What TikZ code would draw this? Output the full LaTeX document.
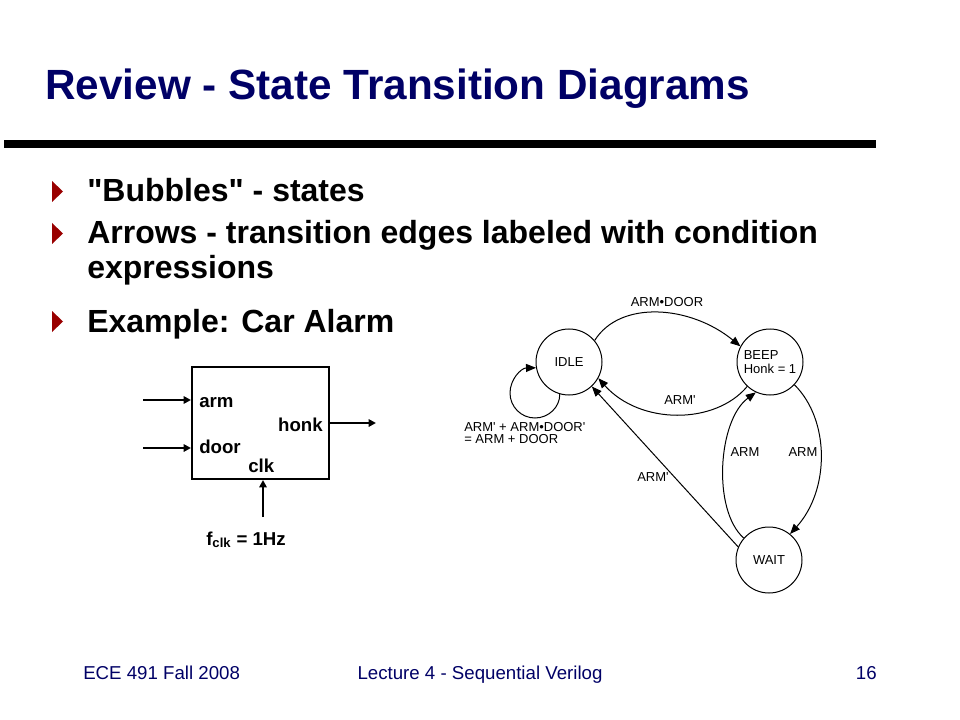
\documentclass[tikz,border=0pt]{standalone}
\usepackage{fontspec}
\setmainfont{Liberation Sans}[Ligatures=TeXOff]
\usetikzlibrary{arrows.meta}
\usetikzlibrary{positioning}
\definecolor{titlenavy}{RGB}{0,0,102}
\definecolor{bulletred}{RGB}{153,0,0}

\tikzset{
  bubble/.style={draw, circle, line width=0.75pt, minimum size=49.5pt, inner sep=0pt, font=\fontsize{9.75}{10.5}\selectfont},
  edgelbl/.style={inner sep=0pt, font=\fontsize{9.75}{9}\selectfont},
  trans/.style={line width=0.75pt, -{Triangle[length=7.5pt,width=6pt]}},
  wire/.style={line width=1.5pt, -{Triangle[length=5.5pt,width=5.5pt]}},
  portlbl/.style={inner sep=0pt, font=\fontsize{14}{16}\selectfont\bfseries},
  bullettext/.style={anchor=base west, inner sep=0pt, font=\fontsize{24}{28}\selectfont\bfseries},
  footer/.style={inner sep=0pt, text=titlenavy, font=\fontsize{14}{16}\selectfont}
}

\begin{document}
\begin{tikzpicture}[x=0.75pt, y=-0.75pt]
            \useasboundingbox (0,0) rectangle (960,720);

            % Title and rule
            \node[anchor=base west, inner sep=0pt, text=titlenavy, font=\fontsize{31.7}{36}\selectfont\bfseries] (title) at (45,100) {Review - State Transition Diagrams};
            \fill (4,140) rectangle (876,148);

            % Bullets
            \foreach \b in {202,244,332} {
                \fill[bulletred] (52,\b-21) -- (63,\b-10.5) -- (52,\b) -- cycle;
            }
            \node[bullettext] (pta) at (87,202) {"Bubbles" - states};
            \node[bullettext] (ptb) at (87,244) {Arrows - transition edges labeled with condition};
            \node[bullettext] (ptbb) at (87,279) {expressions};
            \node[bullettext] (ptc) at (87,332) {Example: Car Alarm};

            % Car alarm block
            \node[draw, line width=1.5pt, minimum width=102.75pt, minimum height=84pt, inner sep=0pt] (alarm) at (260.5,423) {};
            \coordinate (armin) at (143,400);
            \coordinate (doorin) at (143,448);
            \coordinate (honkout) at (376,423);
            \coordinate (clkin) at (263,517);
            \draw[wire] (armin) -- (armin -| alarm.west);
            \draw[wire] (doorin) -- (doorin -| alarm.west);
            \draw[wire] (alarm.east |- honkout) -- (honkout);
            \draw[wire] (clkin) -- (clkin |- alarm.south);
            \node[portlbl, anchor=base west] (armlbl) at (199,407) {arm};
            \node[portlbl, anchor=base west] (doorlbl) at (199,453) {door};
            \node[portlbl, anchor=base east] (honklbl) at (323,431) {honk};
            \node[portlbl, anchor=base west] (clklbl) at (248,472) {clk};
            \node[portlbl, anchor=base west] (fclk) at (206,545) {f\textsubscript{clk} = 1Hz};

            % States
            \node[bubble] (idle) at (569,362) {IDLE};
            \node[bubble, align=left] (beep) at (770,362) {BEEP\\Honk = 1};
            \node[bubble] (wait) at (769,560) {WAIT};

            % Transitions
            \draw[trans] (idle.40) .. controls (620,300) and (690,305) .. (beep.152);
            \draw[trans] (beep.227) .. controls (715,425) and (640,425) .. (idle.-29);
            \draw[trans] (wait.157) -- (idle.-47);
            \draw[trans] (wait.139) .. controls (712,510) and (718,420) .. (beep.245);
            \draw[trans] (beep.-43) .. controls (830,420) and (830,490) .. (wait.51);
            % self loop on IDLE
            \draw[trans] (idle.254) .. controls (560,406.8) and (548.8,418) .. (535,418)
                .. controls (521.2,418) and (510,406.8) .. (510,393)
                .. controls (510,379.2) and (521.2,368) .. (idle.190);

            % Conditions
            \node[edgelbl] (armdoor) at (667,302) {ARM•DOOR};
            \node[edgelbl] (armnota) at (680,400) {ARM'};
            \node[edgelbl] (armnotb) at (653,477) {ARM'};
            \node[edgelbl] (armleft) at (745,452) {ARM};
            \node[edgelbl] (armright) at (803,452) {ARM};
            \node[edgelbl, align=left, anchor=north west] (looplbl) at (464,422) {ARM' + ARM•DOOR'\\= ARM + DOOR};

            % Footer
            \node[footer, anchor=base west] (ftleft) at (83,679) {ECE 491 Fall 2008};
            \node[footer, anchor=base] (ftmid) at (480,679) {Lecture 4 - Sequential Verilog};
            \node[footer, anchor=base east] (ftright) at (877,679) {16};
\end{tikzpicture}
\end{document}
